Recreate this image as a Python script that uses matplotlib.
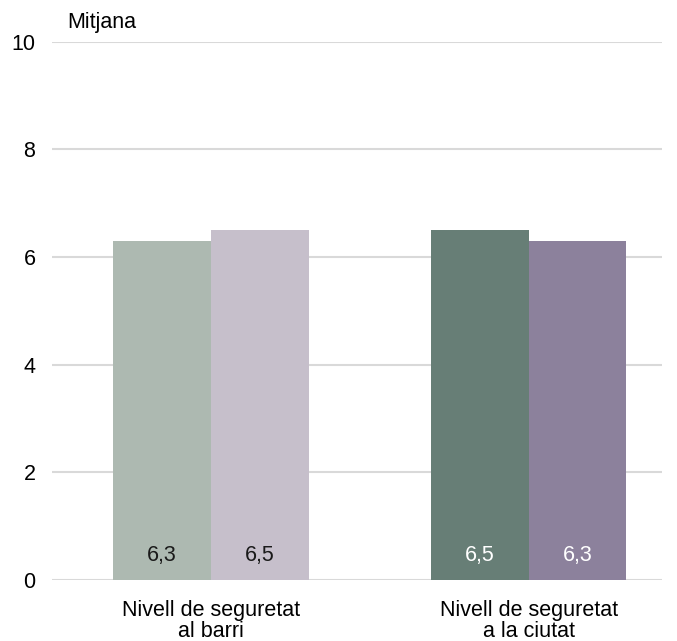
import matplotlib
matplotlib.use('Agg')
import matplotlib.pyplot as plt
import numpy as np

plt.rcParams['font.family'] = ['Liberation Sans', 'DejaVu Sans']

# Dades
categories = ['Nivell de seguretat\nal barri', 'Nivell de seguretat\na la ciutat']
serie_1 = [6.3, 6.5]
serie_2 = [6.5, 6.3]
colors_1 = ['#adb9b1', '#677e76']
colors_2 = ['#c6bfcb', '#8c819c']
text_colors = ['#1a1a1a', '#ffffff']

fs = 15.5

fig = plt.figure(figsize=(6.77, 6.41), dpi=100)
ax = fig.add_axes([0.077, 0.095, 0.901, 0.84])

x = np.arange(len(categories))
w = 0.307
b1 = ax.bar(x - w / 2, serie_1, w, color=colors_1, zorder=3)
b2 = ax.bar(x + w / 2, serie_2, w, color=colors_2, zorder=3)

for bars, vals in [(b1, serie_1), (b2, serie_2)]:
    for i, (bar, val) in enumerate(zip(bars, vals)):
        ax.text(bar.get_x() + bar.get_width() / 2, 0.46,
                f'{val:.1f}'.replace('.', ','), ha='center', va='center',
                fontsize=fs, color=text_colors[i], zorder=4)

ax.set_ylim(0, 10)
ax.set_xlim(-0.5, 1.42)
ax.set_yticks([0, 2, 4, 6, 8, 10])
ax.set_xticks(x)
ax.set_xticklabels(categories, fontsize=fs, linespacing=1.0)
ax.tick_params(axis='y', labelsize=fs, length=0, pad=12)
ax.tick_params(axis='x', length=0, pad=14)
ax.grid(axis='y', color='#d9d9d9', linewidth=1.5, zorder=0)
for s in ax.spines.values():
    s.set_visible(False)

fig.text(0.1, 0.965, 'Mitjana', fontsize=fs, ha='left', va='center')

fig.savefig('out.png', dpi=100)
